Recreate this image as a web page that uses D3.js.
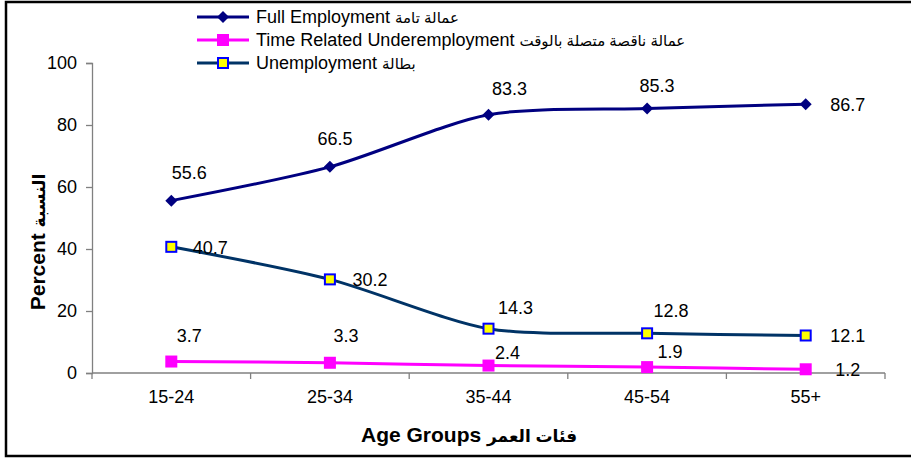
<!DOCTYPE html>
<html>
<head>
<meta charset="utf-8">
<script src="https://cdn.jsdelivr.net/npm/d3@7"></script>
<style>
  body { margin: 0; background: #fff; }
  svg text { font-family: "Liberation Sans", Arial, "DejaVu Sans", sans-serif; fill: #000; }
</style>
</head>
<body>
<div id="chart"></div>
<script>
// data
var ageGroups = ["15-24", "25-34", "35-44", "45-54", "55+"];
var fullEmployment = [55.6, 66.5, 83.3, 85.3, 86.7];
var underEmployment = [3.7, 3.3, 2.4, 1.9, 1.2];
var unemployment = [40.7, 30.2, 14.3, 12.8, 12.1];
var yTicks = [0, 20, 40, 60, 80, 100];
var seriesNamesEn = ["Full Employment", "Time Related Underemployment", "Unemployment"];
var seriesNamesAr = ["عمالة تامة", "عمالة ناقصة متصلة بالوقت", "بطالة"];

// layout
var W = 911, H = 460;
var plot = { left: 92, right: 885, top: 63, bottom: 373 };

// label offsets (dx, dy) from each point, hand placed like the original
var labelOffsets = [
    [[18, -28], [5, -28], [21, -26], [10, -23], [42, 1]],
    [[18, -26], [16, -27], [19, -13], [23, -15], [42, 1]],
    [[39, 1], [40, 1], [27, -21], [24, -22], [42, 1]]
];

var svg = d3.select("#chart").append("svg")
    .attr("width", W)
    .attr("height", H);

// outer frame
svg.append("rect")
    .attr("x", 6).attr("y", 2)
    .attr("width", 930).attr("height", 454)
    .attr("fill", "none")
    .attr("stroke", "#000")
    .attr("stroke-width", 2.5);

var xScale = d3.scaleBand()
    .domain(ageGroups)
    .range([plot.left, plot.right]);

var yScale = d3.scaleLinear()
    .domain([0, 100])
    .range([plot.bottom, plot.top]);

var cx = function(i) { return xScale(ageGroups[i]) + xScale.bandwidth() / 2; };

// y axis
var yAxis = d3.axisLeft(yScale)
    .tickValues(yTicks)
    .tickSize(6)
    .tickPadding(9)
    .tickFormat(d3.format("d"));

var gy = svg.append("g")
    .attr("transform", "translate(" + plot.left + ",0)")
    .call(yAxis);
gy.select(".domain").attr("stroke", "#808080").attr("stroke-width", 1.3);
gy.selectAll(".tick line").attr("stroke", "#808080").attr("stroke-width", 1.3);
gy.selectAll("text").style("font-size", "18px").attr("fill", "#000");

// x axis, ticks between categories
var xAxis = d3.axisBottom(xScale).tickSize(0).tickPadding(17);
var gx = svg.append("g")
    .attr("transform", "translate(0," + plot.bottom + ")")
    .call(xAxis);
gx.select(".domain").attr("d", "M" + plot.left + ",0H" + plot.right)
    .attr("stroke", "#808080").attr("stroke-width", 1.3);
gx.selectAll("text").style("font-size", "18px").attr("fill", "#000");

var boundaries = ageGroups.map(function(d) { return xScale(d); }).concat([plot.right]);
gx.selectAll(".bound")
    .data(boundaries)
    .enter().append("line")
    .attr("class", "bound")
    .attr("x1", function(d) { return d; })
    .attr("x2", function(d) { return d; })
    .attr("y1", 0).attr("y2", 6)
    .attr("stroke", "#808080").attr("stroke-width", 1.3);

// axis titles
var yTitle = svg.append("text")
    .attr("text-anchor", "middle")
    .attr("transform", "translate(45,242)rotate(-90)")
    .style("font-weight", "bold");
yTitle.append("tspan").style("font-size", "21px").text("Percent  ");
yTitle.append("tspan").style("font-size", "17px").text("النسبة");

var xTitle = svg.append("text")
    .attr("text-anchor", "middle")
    .attr("x", 469).attr("y", 442)
    .style("font-weight", "bold");
xTitle.append("tspan").style("font-size", "21px").text("Age Groups ");
xTitle.append("tspan").style("font-size", "17px").text("فئات العمر");

// series
var series = [
    { values: fullEmployment, line: "#000080", marker: "diamond", fill: "#000080", stroke: "#000080" },
    { values: underEmployment, line: "#FF00FF", marker: "square", fill: "#FF00FF", stroke: "#FF00FF" },
    { values: unemployment, line: "#003366", marker: "square", fill: "#FFFF00", stroke: "#0000FF" }
];

var line = d3.line()
    .x(function(d, i) { return cx(i); })
    .y(function(d) { return yScale(d); })
    .curve(d3.curveCardinal.tension(0.2));

function drawMarker(g, type, x, y, s) {
    if (type === "diamond") {
        g.append("path")
            .attr("d", "M" + x + "," + (y - 6) + "L" + (x + 6) + "," + y + "L" + x + "," + (y + 6) + "L" + (x - 6) + "," + y + "Z")
            .attr("fill", s.fill);
    } else if (s.fill === "#FFFF00") {
        g.append("rect")
            .attr("x", x - 5).attr("y", y - 5)
            .attr("width", 10).attr("height", 10)
            .attr("fill", s.fill)
            .attr("stroke", s.stroke)
            .attr("stroke-width", 2);
    } else {
        g.append("rect")
            .attr("x", x - 6).attr("y", y - 6)
            .attr("width", 12).attr("height", 12)
            .attr("fill", s.fill);
    }
}

series.forEach(function(s, k) {
    var g = svg.append("g");
    g.append("path")
        .datum(s.values)
        .attr("d", line)
        .attr("fill", "none")
        .attr("stroke", s.line)
        .attr("stroke-width", 3);
    s.values.forEach(function(v, i) {
        drawMarker(g, s.marker, cx(i), yScale(v), s);
    });
});

// data labels on top
series.forEach(function(s, k) {
    svg.append("g").selectAll("text")
        .data(s.values)
        .enter().append("text")
        .attr("x", function(d, i) { return cx(i) + labelOffsets[k][i][0]; })
        .attr("y", function(d, i) { return yScale(d) + labelOffsets[k][i][1]; })
        .attr("text-anchor", "middle")
        .attr("dominant-baseline", "central")
        .style("font-size", "18px")
        .text(function(d) { return d.toFixed(1); });
});

// legend
var legend = svg.append("g");
series.forEach(function(s, k) {
    var y = 17 + k * 23;
    legend.append("line")
        .attr("x1", 197).attr("x2", 249)
        .attr("y1", y).attr("y2", y)
        .attr("stroke", s.line)
        .attr("stroke-width", 3);
    drawMarker(legend, s.marker, 223, y, s);
    var t = legend.append("text")
        .attr("x", 256).attr("y", y)
        .attr("dominant-baseline", "central");
    t.append("tspan").style("font-size", "18px").text(seriesNamesEn[k] + (k === 2 ? "  " : " "));
    t.append("tspan").style("font-size", "15px").text(seriesNamesAr[k]);
});
</script>
</body>
</html>
